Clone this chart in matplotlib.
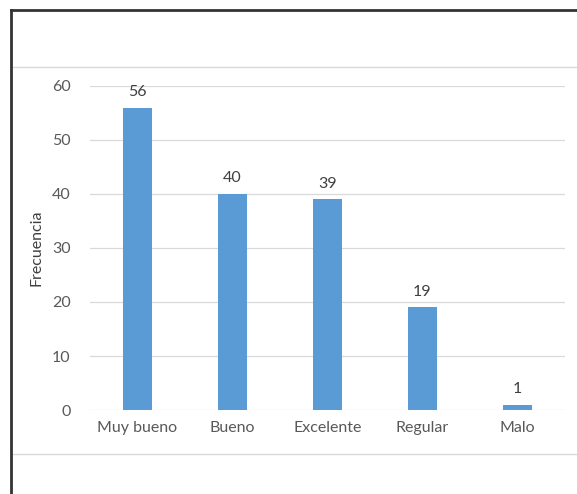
import matplotlib
matplotlib.use("Agg")
import matplotlib.pyplot as plt
from matplotlib.lines import Line2D

categories = ["Muy bueno", "Bueno", "Excelente", "Regular", "Malo"]
frecuencia = [56, 40, 39, 19, 1]
yticks = [0, 10, 20, 30, 40, 50, 60]

BLUE, GREY, TXT = "#5B9BD5", "#D9D9D9", "#595959"
plt.rcParams.update({"font.family": ["Lato", "DejaVu Sans"]})

fig = plt.figure(figsize=(5.77, 4.94), dpi=100)
ax = fig.add_axes([0.156, 0.170, 0.823, 0.656])

x = range(len(categories))
bars = ax.bar(x, frecuencia, width=0.31, color=BLUE, zorder=3)
for b, v in zip(bars, frecuencia):
    ax.text(b.get_x() + b.get_width() / 2, v + 1.6, str(v), ha="center", va="bottom",
            fontsize=11.5, color="#404040")

ax.set_xlim(-0.5, len(categories) - 0.5)
ax.set_ylim(0, 60)
ax.set_yticks(yticks)
ax.set_xticks(list(x))
ax.set_xticklabels(categories)
ax.grid(axis="y", color=GREY, lw=0.9, zorder=0)
ax.tick_params(length=0, labelsize=11.5, labelcolor=TXT)
ax.tick_params(axis="x", pad=8)
ax.tick_params(axis="y", pad=14)
ax.spines[["top", "right", "left", "bottom"]].set_visible(False)
ax.set_ylabel("Frecuencia", fontsize=11.5, color="#404040", labelpad=6)

# separator lines, then the dark frame on top
for yp in (67, 454):
    fig.add_artist(Line2D([13 / 577, 1], [1 - yp / 494] * 2, transform=fig.transFigure,
                          color=GREY, lw=1, zorder=1))
fig.add_artist(Line2D([11 / 577, 1], [1 - 10 / 494] * 2, transform=fig.transFigure,
                      color="#333333", lw=2, zorder=5))
fig.add_artist(Line2D([11 / 577] * 2, [0, 1 - 10 / 494], transform=fig.transFigure,
                      color="#333333", lw=2, zorder=5))

fig.savefig("out.png", facecolor="white")
